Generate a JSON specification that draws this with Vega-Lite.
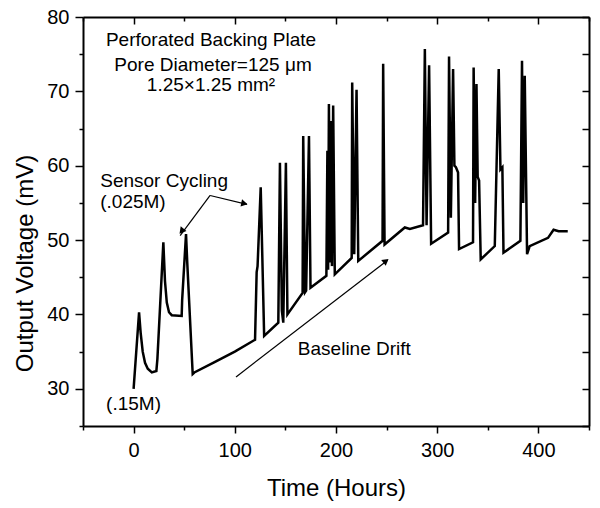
{
  "$schema": "https://vega.github.io/schema/vega-lite/v6.json",
  "width": 506,
  "height": 409,
  "autosize": {"type": "none"},
  "padding": {"left": 83, "top": 17, "right": 11, "bottom": 82},
  "config": {
    "view": {"stroke": null},
    "font": "Liberation Sans",
    "axis": {
      "grid": false,
      "domainColor": "black",
      "domainWidth": 2,
      "tickColor": "black",
      "tickWidth": 1.5,
      "labelColor": "black",
      "titleColor": "black",
      "labelFont": "Liberation Sans",
      "titleFont": "Liberation Sans",
      "labelFontSize": 20,
      "titleFontSize": 24,
      "titleFontWeight": "normal",
      "labelOverlap": false,
      "labelFlush": false
    }
  },
  "datasets": {
    "series": [
      {"t": 0, "v": 30.0}, {"t": 5.4, "v": 40.3}, {"t": 7, "v": 37.5}, {"t": 9, "v": 35.0},
      {"t": 11.3, "v": 33.5}, {"t": 14, "v": 32.7}, {"t": 18, "v": 32.2}, {"t": 22.5, "v": 32.4},
      {"t": 23.5, "v": 34.0}, {"t": 29.4, "v": 49.7}, {"t": 31, "v": 44.5}, {"t": 32.8, "v": 41.6},
      {"t": 35, "v": 40.3}, {"t": 37.7, "v": 39.9}, {"t": 47.5, "v": 39.8}, {"t": 48, "v": 42.0},
      {"t": 51.8, "v": 50.8}, {"t": 53, "v": 47.0}, {"t": 58.4, "v": 32.0}, {"t": 60, "v": 32.2},
      {"t": 80, "v": 33.6}, {"t": 100, "v": 35.0}, {"t": 120, "v": 36.6}, {"t": 121.6, "v": 45.7},
      {"t": 122.5, "v": 46.5}, {"t": 125.6, "v": 57.1}, {"t": 129, "v": 37.1}, {"t": 143, "v": 38.9},
      {"t": 144.6, "v": 60.4}, {"t": 146.5, "v": 40.5}, {"t": 147.9, "v": 38.9}, {"t": 150.5, "v": 60.4},
      {"t": 152, "v": 40.0}, {"t": 167, "v": 42.9}, {"t": 167.6, "v": 64.0}, {"t": 169.5, "v": 43.0},
      {"t": 170.5, "v": 43.2}, {"t": 173.3, "v": 64.0}, {"t": 174.8, "v": 43.6}, {"t": 190.5, "v": 45.2},
      {"t": 191.5, "v": 62.0}, {"t": 192.2, "v": 46.0}, {"t": 193.0, "v": 68.3}, {"t": 194, "v": 47.0},
      {"t": 195, "v": 66.0}, {"t": 196, "v": 46.5}, {"t": 197.2, "v": 68.1}, {"t": 198.8, "v": 45.4},
      {"t": 215.5, "v": 47.6}, {"t": 216.0, "v": 71.2}, {"t": 218.0, "v": 48.1}, {"t": 220.3, "v": 70.2},
      {"t": 222.0, "v": 47.2}, {"t": 246.0, "v": 49.9}, {"t": 246.6, "v": 73.7}, {"t": 248, "v": 49.4},
      {"t": 268, "v": 51.7}, {"t": 273, "v": 51.5}, {"t": 286, "v": 52.0}, {"t": 287.8, "v": 75.7},
      {"t": 289.5, "v": 52.0}, {"t": 292.0, "v": 73.5}, {"t": 294, "v": 49.5}, {"t": 310.8, "v": 51.0},
      {"t": 311.7, "v": 74.7}, {"t": 313.5, "v": 53.0}, {"t": 315.7, "v": 73.0}, {"t": 317, "v": 60.0},
      {"t": 318.5, "v": 59.8}, {"t": 320.6, "v": 59.1}, {"t": 321.6, "v": 48.8}, {"t": 335.4, "v": 49.7},
      {"t": 336.0, "v": 73.2}, {"t": 337.5, "v": 55.0}, {"t": 338.8, "v": 71.0}, {"t": 340, "v": 58.5},
      {"t": 341.4, "v": 58.0}, {"t": 343.0, "v": 47.4}, {"t": 356.9, "v": 49.2}, {"t": 360.8, "v": 73.0},
      {"t": 362.5, "v": 59.5}, {"t": 364.4, "v": 59.8}, {"t": 365.5, "v": 48.3}, {"t": 382.2, "v": 49.9},
      {"t": 383.8, "v": 74.1}, {"t": 385, "v": 55.0}, {"t": 386.5, "v": 72.1}, {"t": 388.8, "v": 48.1},
      {"t": 391.4, "v": 49.2}, {"t": 409.5, "v": 50.3}, {"t": 415, "v": 51.4}, {"t": 420, "v": 51.2},
      {"t": 429, "v": 51.2}
    ],
    "arrows": [
      {"x": 75.6, "y": 56.0, "x2": 46.0, "y2": 50.6},
      {"x": 75.6, "y": 56.0, "x2": 112.0, "y2": 54.8},
      {"x": 101.2, "y": 31.6, "x2": 251.0, "y2": 47.3}
    ],
    "heads": [
      {"id": "a", "x": 47.4, "y": 51.2},
      {"id": "b", "x": 109.5, "y": 54.9},
      {"id": "c", "x": 249.4, "y": 47.2}
    ],
    "centerNotes": [
      {"x": 76.5, "y": 76.85, "label": "Perforated Backing Plate"},
      {"x": 78.5, "y": 73.5, "label": "Pore Diameter=125 μm"},
      {"x": 76.5, "y": 70.9, "label": "1.25×1.25 mm²"}
    ],
    "leftNotes": [
      {"x": -33, "y": 57.9, "label": "Sensor Cycling"},
      {"x": -33, "y": 55.1, "label": "(.025M)"},
      {"x": -27.2, "y": 28.0, "label": "(.15M)"},
      {"x": 162.3, "y": 35.3, "label": "Baseline Drift"}
    ]
  },
  "layer": [
    {
      "data": {"name": "series"},
      "mark": {"type": "line", "color": "black", "strokeWidth": 2.5},
      "encoding": {
        "x": {
          "field": "t", "type": "quantitative",
          "scale": {"domain": [-50, 450], "nice": false, "zero": false},
          "axis": {
            "orient": "bottom",
            "values": [-50, 0, 50, 100, 150, 200, 250, 300, 350, 400, 450],
            "labelExpr": "datum.value % 100 === 0 ? datum.label : ''",
            "tickSize": {"condition": {"test": "datum.value % 100 === 0", "value": 7}, "value": 4},
            "labelPadding": 7,
            "title": "Time (Hours)",
            "titleX": 253,
            "titleY": 62,
            "titleBaseline": "middle"
          }
        },
        "y": {
          "field": "v", "type": "quantitative",
          "scale": {"domain": [25, 80], "nice": false, "zero": false},
          "axis": {
            "orient": "left",
            "values": [25, 30, 35, 40, 45, 50, 55, 60, 65, 70, 75, 80],
            "labelExpr": "datum.value % 10 === 0 ? datum.label : ''",
            "tickSize": {"condition": {"test": "datum.value % 10 === 0", "value": 8}, "value": 4},
            "labelPadding": 6,
            "title": "Output Voltage (mV)",
            "titleX": -58,
            "titleY": 246,
            "titleBaseline": "middle"
          }
        }
      }
    },
    {
      "data": {"name": "series"},
      "mark": {"type": "line", "opacity": 0},
      "encoding": {
        "x": {
          "field": "t", "type": "quantitative",
          "axis": {
            "orient": "top",
            "values": [-50, 0, 50, 100, 150, 200, 250, 300, 350, 400, 450],
            "labels": false,
            "tickSize": {"condition": {"test": "datum.value % 100 === 0", "value": -7}, "value": -4},
            "title": null
          }
        },
        "y": {
          "field": "v", "type": "quantitative",
          "axis": {
            "orient": "right",
            "values": [25, 30, 35, 40, 45, 50, 55, 60, 65, 70, 75, 80],
            "labels": false,
            "tickSize": -7,
            "title": null
          }
        }
      }
    },
    {
      "data": {"name": "arrows"},
      "mark": {"type": "rule", "color": "black", "strokeWidth": 1.2},
      "encoding": {
        "x": {"field": "x", "type": "quantitative", "axis": null},
        "y": {"field": "y", "type": "quantitative", "axis": null},
        "x2": {"field": "x2"},
        "y2": {"field": "y2"}
      }
    },
    {
      "data": {"name": "heads"},
      "transform": [{"filter": "datum.id === 'a'"}],
      "mark": {"type": "point", "shape": "triangle-right", "filled": true, "color": "black", "opacity": 1, "size": 55, "angle": 129},
      "encoding": {
        "x": {"field": "x", "type": "quantitative", "axis": null},
        "y": {"field": "y", "type": "quantitative", "axis": null}
      }
    },
    {
      "data": {"name": "heads"},
      "transform": [{"filter": "datum.id === 'b'"}],
      "mark": {"type": "point", "shape": "triangle-right", "filled": true, "color": "black", "opacity": 1, "size": 55, "angle": 12},
      "encoding": {
        "x": {"field": "x", "type": "quantitative", "axis": null},
        "y": {"field": "y", "type": "quantitative", "axis": null}
      }
    },
    {
      "data": {"name": "heads"},
      "transform": [{"filter": "datum.id === 'c'"}],
      "mark": {"type": "point", "shape": "triangle-right", "filled": true, "color": "black", "opacity": 1, "size": 55, "angle": 322},
      "encoding": {
        "x": {"field": "x", "type": "quantitative", "axis": null},
        "y": {"field": "y", "type": "quantitative", "axis": null}
      }
    },
    {
      "data": {"name": "centerNotes"},
      "mark": {"type": "text", "align": "center", "baseline": "middle", "fontSize": 19, "font": "Liberation Sans", "color": "black"},
      "encoding": {
        "x": {"field": "x", "type": "quantitative", "axis": null},
        "y": {"field": "y", "type": "quantitative", "axis": null},
        "text": {"field": "label"}
      }
    },
    {
      "data": {"name": "leftNotes"},
      "mark": {"type": "text", "align": "left", "baseline": "middle", "fontSize": 19, "font": "Liberation Sans", "color": "black"},
      "encoding": {
        "x": {"field": "x", "type": "quantitative", "axis": null},
        "y": {"field": "y", "type": "quantitative", "axis": null},
        "text": {"field": "label"}
      }
    }
  ],
  "resolve": {"axis": {"x": "independent", "y": "independent"}}
}
